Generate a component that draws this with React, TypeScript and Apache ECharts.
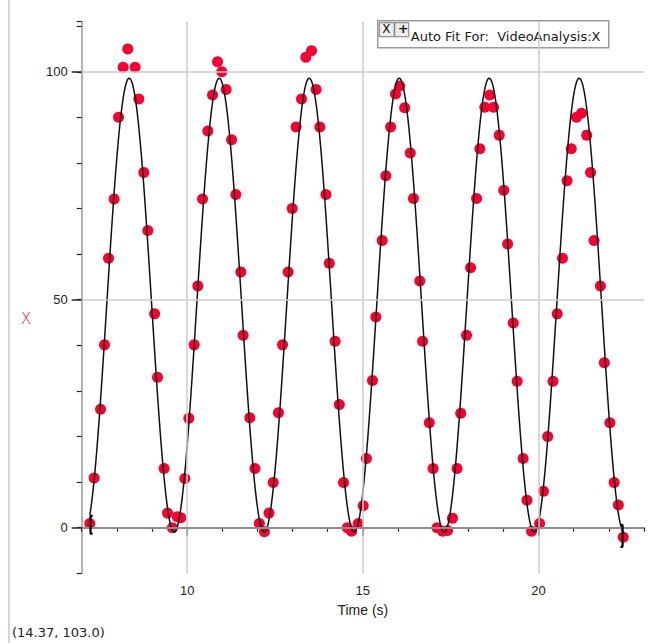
import React, { useEffect, useRef } from "react";
import * as echarts from "echarts";

// Measured data: time (s) and position X (video analysis)
const TIME_S = [
  7.231, 7.353, 7.536, 7.649, 7.763, 7.923, 8.048, 8.179, 8.312, 8.52,
  8.625, 8.768, 8.882, 9.075, 9.158, 9.345, 9.442, 9.579, 9.721, 9.821,
  9.935, 10.048, 10.2, 10.305, 10.438, 10.589, 10.723, 10.865, 10.987, 11.11,
  11.264, 11.386, 11.528, 11.594, 11.784, 11.93, 12.055, 12.2, 12.33, 12.45,
  12.6, 12.715, 12.874, 12.99, 13.1, 13.255, 13.378, 13.54, 13.67, 13.776,
  13.95, 14.045, 14.21, 14.33, 14.45, 14.56, 14.68, 14.87, 15.01, 15.1,
  15.275, 15.37, 15.55, 15.655, 15.79, 15.93, 16.05, 16.19, 16.35, 16.44,
  16.62, 16.7, 16.89, 17.0, 17.11, 17.27, 17.41, 17.55, 17.68, 17.785,
  17.95, 18.065, 18.235, 18.33, 18.47, 18.61, 18.72, 18.88, 19.01, 19.12,
  19.28, 19.39, 19.56, 19.67, 19.8, 20.03, 20.14, 20.26, 20.41, 20.53,
  20.68, 20.81, 20.93, 21.08, 21.22, 21.37, 21.48, 21.58, 21.76, 21.87,
  22.03, 22.15, 22.27, 22.41,
];
const POS_X = [
  0.9, 10.9, 26.0, 40.1, 59.1, 72.1, 90.0, 101.0, 105.0, 101.0,
  94.0, 77.9, 65.2, 46.9, 33.0, 13.0, 3.2, 0.0, 2.4, 2.2,
  10.8, 24.0, 40.1, 53.0, 72.1, 87.0, 94.9, 102.2, 100.0, 96.1,
  85.1, 73.1, 56.1, 42.2, 24.1, 13.0, 0.9, -0.9, 3.2, 9.9,
  25.2, 40.1, 56.1, 70.0, 87.9, 94.0, 103.2, 104.6, 96.1, 87.9,
  73.1, 58.0, 40.9, 27.0, 9.9, 0.0, -0.8, 0.9, 4.8, 15.2,
  32.3, 46.2, 63.0, 77.2, 87.9, 95.1, 96.9, 92.1, 82.2, 72.2,
  54.1, 40.9, 23.0, 13.0, 0.0, -0.8, -0.6, 2.1, 13.0, 25.1,
  42.2, 57.0, 72.2, 83.1, 92.2, 94.9, 92.2, 86.1, 74.0, 62.2,
  44.9, 32.1, 15.2, 6.0, -0.8, 0.9, 8.0, 20.0, 32.1, 46.9,
  59.1, 76.1, 83.1, 90.0, 90.9, 86.1, 77.9, 63.0, 53.0, 36.2,
  23.0, 9.9, 5.0, -2.1,
];

const X_TICK_LABELS = [10, 15, 20];
const Y_TICK_LABELS = [0, 50, 100];
const X_GRID = [10, 15, 20];
const Y_GRID = [50, 100];

// Sine auto-fit: X = A*sin(B*t + C) + D
const FIT_A = 49.8;
const FIT_B = 2.4534;
const FIT_C = -0.07;
const FIT_D = 48.8;
const FIT_START = 7.231;
const FIT_END = 22.41;

const X_MIN = 7;
const X_MAX = 23;
const Y_MIN = -10;
const Y_MAX = 111;

const READOUT = "(14.37, 103.0)";
const FIT_LABEL = "Auto Fit For:  VideoAnalysis:X";
const X_NAME = "Time (s)";
const Y_NAME = "X";

const RED = "#f80032";

export default function App() {
  const ref = useRef<HTMLDivElement>(null);
  useEffect(() => {
    if (!ref.current) return;
    const chart = echarts.init(ref.current, undefined, { renderer: "svg" });

    const points = TIME_S.map((t, i) => [t, POS_X[i]]);
    const fit: number[][] = [];
    const n = 800;
    for (let i = 0; i <= n; i++) {
      const t = FIT_START + ((FIT_END - FIT_START) * i) / n;
      fit.push([t, FIT_A * Math.sin(FIT_B * t + FIT_C) + FIT_D]);
    }
    const hook = 0.08;
    const leftBracket = [
      [FIT_START + hook, 2.6],
      [FIT_START + 0.02, 2.6],
      [FIT_START + 0.02, -1.3],
      [FIT_START + hook, -1.3],
    ];
    const rightBracket = [
      [FIT_END - hook, 0.6],
      [FIT_END - 0.02, 0.6],
      [FIT_END - 0.02, -4.2],
      [FIT_END - hook, -4.2],
    ];

    const font = "DejaVu Sans";
    const grid = { left: 81.7, right: 12, top: 21.6, bottom: 69.7, outerBoundsMode: "none" } as any;

    chart.setOption({
      animation: false,
      backgroundColor: "#ffffff",
      grid,
      xAxis: [
        {
          type: "value",
          min: X_MIN,
          max: X_MAX,
          interval: 1,
          position: "bottom",
          axisLine: { show: true, lineStyle: { color: "#9a9a9a", width: 1.5 } },
          axisTick: { show: true, length: 4, lineStyle: { color: "#222", width: 1.2 } },
          axisLabel: { show: false },
          splitLine: { show: false },
        },
        {
          type: "value",
          min: X_MIN,
          max: X_MAX,
          position: "bottom",
          axisLine: { show: false },
          axisTick: { show: true, length: 8, customValues: X_TICK_LABELS, lineStyle: { color: "#222", width: 1.5 } },
          axisLabel: {
            show: true,
            customValues: X_TICK_LABELS,
            margin: 11,
            fontSize: 13,
            fontFamily: "Liberation Sans",
            color: "#222",
          },
          splitLine: { show: false },
          name: X_NAME,
          nameLocation: "middle",
          nameGap: 30,
          nameTextStyle: { fontSize: 14, fontFamily: "Liberation Sans", color: "#222" },
        },
      ],
      yAxis: [
        {
          type: "value",
          min: Y_MIN,
          max: Y_MAX,
          interval: 10,
          axisLine: { show: true, lineStyle: { color: "#9a9a9a", width: 1.5 } },
          axisTick: { show: true, length: 5, lineStyle: { color: "#222", width: 1.2 } },
          axisLabel: { show: false },
          splitLine: { show: false },
        },
        {
          type: "value",
          min: Y_MIN,
          max: Y_MAX,
          position: "left",
          axisLine: { show: false },
          axisTick: { show: true, length: 10, customValues: Y_TICK_LABELS, lineStyle: { color: "#222", width: 1.5 } },
          axisLabel: {
            show: true,
            customValues: Y_TICK_LABELS,
            margin: 14,
            fontSize: 13,
            fontFamily: "Liberation Sans",
            color: "#222",
          },
          splitLine: { show: false },
        },
      ],
      series: [
        {
          type: "line",
          data: [],
          silent: true,
          z: 1,
          markLine: {
            silent: true,
            symbol: ["none", "none"],
            label: { show: false },
            animation: false,
            data: [
              ...X_GRID.map((v) => ({ xAxis: v, lineStyle: { color: "#cccccc", width: 1.5, type: "solid" } })),
              ...Y_GRID.map((v) => ({ yAxis: v, lineStyle: { color: "#cccccc", width: 1.5, type: "solid" } })),
              { yAxis: 0, lineStyle: { color: "#8c8c8c", width: 2.2, type: "solid" } },
            ],
          },
        },
        {
          type: "scatter",
          data: points,
          symbol: "circle",
          symbolSize: 11,
          itemStyle: { color: RED, opacity: 1 },
          z: 3,
        },
        {
          type: "line",
          data: fit,
          showSymbol: false,
          symbol: "none",
          lineStyle: { color: "#111", width: 1.5 },
          z: 4,
        },
        {
          type: "line",
          data: leftBracket,
          showSymbol: false,
          symbol: "none",
          lineStyle: { color: "#000", width: 2.2 },
          z: 5,
        },
        {
          type: "line",
          data: rightBracket,
          showSymbol: false,
          symbol: "none",
          lineStyle: { color: "#000", width: 2.2 },
          z: 5,
        },
      ],
      graphic: [
        {
          type: "line",
          shape: { x1: 9, y1: 0, x2: 9, y2: 643 },
          style: { stroke: "#c8c8c8", lineWidth: 1.5 },
          silent: true,
        },
        {
          type: "text",
          left: 21,
          top: 311,
          style: { text: Y_NAME, fill: RED, font: `lighter 15px ${font}` },
        },
        {
          type: "text",
          left: 12,
          top: 626,
          style: { text: READOUT, fill: "#222", font: `13px ${font}` },
        },
        {
          type: "group",
          left: 377,
          top: 20,
          z: 100,
          children: [
            {
              type: "rect",
              shape: { x: 0, y: 0, width: 231, height: 27 },
              style: { fill: "#ffffff", stroke: "#9a9a9a", lineWidth: 1.5 },
            },
            {
              type: "text",
              x: 33,
              y: 9,
              style: { text: FIT_LABEL, fill: "#1a1a1a", font: `13px ${font}` },
            },
            {
              type: "rect",
              shape: { x: 1.5, y: 2, width: 15, height: 14 },
              style: { fill: "#ececec", stroke: "#7a7a7a", lineWidth: 1 },
            },
            {
              type: "text",
              x: 4.5,
              y: 2,
              style: { text: "X", fill: "#111", font: `12px ${font}` },
            },
            {
              type: "rect",
              shape: { x: 17, y: 2, width: 14, height: 14 },
              style: { fill: "#ececec", stroke: "#7a7a7a", lineWidth: 1 },
            },
            {
              type: "text",
              x: 20,
              y: 1,
              style: { text: "+", fill: "#111", font: `bold 13px ${font}` },
            },
          ],
        },
      ],
    });
    return () => chart.dispose();
  }, []);
  return (
    <div
      ref={ref}
      style={{ position: "absolute", left: 0, top: 0, width: 656, height: 643, background: "#fff" }}
    />
  );
}
